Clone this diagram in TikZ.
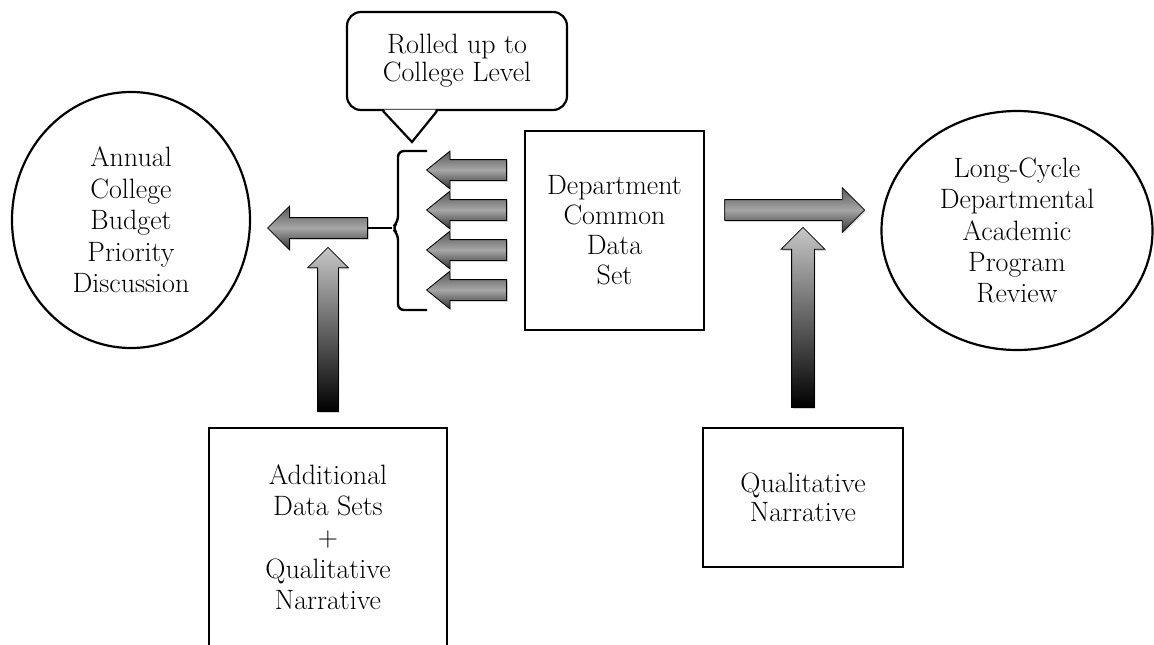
\documentclass[tikz,border=0pt]{standalone}
\usepackage{fontspec}
\usetikzlibrary{positioning, calc, shapes.geometric, shapes.arrows, shadows}

\tikzset{
  box/.style={draw, line width=2.5pt, align=center, inner sep=0pt},
  oval/.style={ellipse, draw, line width=2.2pt, align=center, inner sep=0pt},
  bracket/.style={line width=2.4pt, rounded corners=6pt},
  blockarrow/.style={single arrow, draw=black, line width=0.8pt, inner sep=10pt, minimum width=0pt,
    single arrow head extend=#1, drop shadow={opacity=.35, shadow xshift=1pt, shadow yshift=-1.5pt}},
  blockarrow/.default=11pt,
  sidearrow/.style={blockarrow=#1, top color=black!65, bottom color=black!80, middle color=black!35},
  uparrow/.style={blockarrow=#1, shape border rotate=90, top color=black!22, bottom color=black},
}

\begin{document}
\begin{tikzpicture}[x=1pt, y=-1pt, font=\fontsize{28}{30}\selectfont]
  \useasboundingbox (0,0) rectangle (1154,645);
  % the two goals
  \node[oval, minimum width=238pt, minimum height=256pt, font=\fontsize{28}{31.5}\selectfont] (budget) at (131,220) {Annual\\College\\Budget\\Priority\\Discussion};
  \node[oval, minimum width=271pt, minimum height=239pt, font=\fontsize{28}{31.25}\selectfont] (review) at (1017,230.5) {Long-Cycle\\Departmental\\Academic\\Program\\Review};
  % the inputs
  \node[box, minimum width=179pt, minimum height=199pt] (dept) at (614.5,230.5) {Department\\Common\\Data\\Set};
  \node[box, minimum width=238pt, minimum height=218pt, font=\fontsize{28}{31.25}\selectfont] (addl) at (328,537) {Additional\\Data Sets\\+\\Qualitative\\Narrative};
  \node[box, minimum width=200pt, minimum height=139pt, font=\fontsize{28}{28.5}\selectfont] (qual) at (803,497.5) {Qualitative\\Narrative};
  % callout
  \node[draw, line width=2.2pt, rounded corners=14pt, minimum width=220pt, minimum height=98pt, align=center, inner sep=0pt,
    font=\fontsize{28}{28}\selectfont] (note) at (457,61) {Rolled up to\\College Level};
  \coordinate (tip) at (412,142);
  \fill[white] ($(note.south)+(-73,-1.6)$) -- (tip) -- ($(note.south)+(-21,-1.6)$) -- cycle;
  \draw[line width=2.2pt, line join=miter] ($(note.south)+(-74,-0.1)$) -- (tip) -- ($(note.south)+(-20,-0.1)$);
  % arrows
  \foreach \y [count=\i] in {170,210,250,290}
    \node[sidearrow=8.5pt, shape border rotate=180, single arrow tip angle=78, minimum height=80pt, anchor=tail] (s\i) at (507,\y) {};
  \node[sidearrow=11.5pt, shape border rotate=180, minimum height=100pt, anchor=tail] (la) at (368,228) {};
  \node[sidearrow=12pt, minimum height=140pt, anchor=tail] (ra) at ($(dept.east)+(19,-20.5)$) {};
  \node[uparrow=10pt, minimum height=164pt, above=15pt of addl, anchor=tail] (ul) {};
  \node[uparrow=10.5pt, inner sep=11pt, minimum height=180pt, above=19pt of qual, anchor=tail] (ur) {};
  % brace
  \coordinate (bt) at (392,228);
  \draw[bracket] (427,151) -- (398,151) -- (398,222) -- (bt) -- (398,234) -- (398,310) -- (427,310);
  \draw[line width=2.4pt] (bt) -- (la.tail);
\end{tikzpicture}
\end{document}
